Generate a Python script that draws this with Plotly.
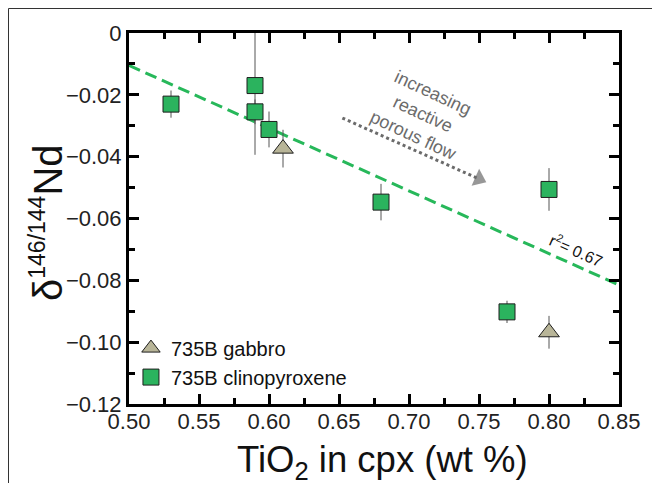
import plotly.graph_objects as go

# ---- data ----
gabbro_x = [0.61, 0.80]
gabbro_y = [-0.0374, -0.0968]
gabbro_err = [0.0061, 0.0053]

cpx_x = [0.53, 0.59, 0.59, 0.60, 0.68, 0.77, 0.80]
cpx_y = [-0.0230, -0.0170, -0.0255, -0.0312, -0.0547, -0.0902, -0.0506]
cpx_err = [0.0044, 0.0224, 0.0040, 0.0058, 0.0059, 0.0036, 0.0069]

fit_x = [0.50, 0.85]
fit_y = [-0.0105, -0.0815]

arrow_x = [0.6524, 0.750]
arrow_y = [-0.0275, -0.0472]

x_tickvals = [0.50, 0.55, 0.60, 0.65, 0.70, 0.75, 0.80, 0.85]
x_ticktext = ["0.50", "0.55", "0.60", "0.65", "0.70", "0.75", "0.80", "0.85"]
y_tickvals = [0, -0.02, -0.04, -0.06, -0.08, -0.10, -0.12]
y_ticktext = ["0", "\u22120.02", "\u22120.04", "\u22120.06", "\u22120.08", "\u22120.10", "\u22120.12"]

FONT = "Liberation Sans, Arial, sans-serif"
GREEN = "#2bb35e"
LINE_GREEN = "#27b85a"
KHAKI = "#b8b598"
GRAY = "#6b6b6b"

W, H = 652, 483
ML, MR, MT, MB = 129, 33, 33, 79
PW, PH = W - ML - MR, H - MT - MB


def px_to_paper_x(px):
    return (px - ML) / PW


def px_to_paper_y(py):
    return (H - MB - py) / PH


fig = go.Figure()

fig.add_trace(go.Scatter(
    x=fit_x, y=fit_y, mode="lines",
    line=dict(color=LINE_GREEN, width=3, dash="12px,6px"),
    showlegend=False, hoverinfo="skip"))

fig.add_trace(go.Scatter(
    x=arrow_x, y=arrow_y, mode="lines+markers",
    line=dict(color=GRAY, width=3, dash="3px,3px"),
    marker=dict(symbol="triangle-up", size=[0, 16], color=GRAY,
                angleref="previous", line=dict(width=0)),
    showlegend=False, hoverinfo="skip"))

fig.add_trace(go.Scatter(
    x=gabbro_x, y=gabbro_y, mode="markers", name="735B gabbro",
    error_y=dict(type="data", array=gabbro_err, color="#555555", thickness=1, width=0),
    marker=dict(symbol="triangle-up", size=18, color=KHAKI,
                line=dict(color="#1e1e1e", width=1))))

fig.add_trace(go.Scatter(
    x=cpx_x, y=cpx_y, mode="markers", name="735B clinopyroxene",
    error_y=dict(type="data", array=cpx_err, color="#555555", thickness=1, width=0),
    marker=dict(symbol="square", size=16, color=GREEN,
                line=dict(color="#1e1e1e", width=1))))

axis_common = dict(
    showline=True, linecolor="black", linewidth=3, mirror="ticks",
    ticks="inside", ticklen=10, tickwidth=3, tickcolor="black",
    showgrid=False, zeroline=False,
    tickfont=dict(family=FONT, size=22, color="#222222"),
)

fig.update_xaxes(
    range=[0.5, 0.85], tickmode="array", tickvals=x_tickvals, ticktext=x_ticktext,
    ticklabelstandoff=-4,
    minor=dict(tick0=0.5, dtick=0.025, ticks="inside", ticklen=6, tickwidth=3, tickcolor="black"),
    **axis_common)
fig.update_yaxes(
    range=[-0.12, 0], tickmode="array", tickvals=y_tickvals, ticktext=y_ticktext,
    minor=dict(tick0=0, dtick=0.01, ticks="inside", ticklen=6, tickwidth=3, tickcolor="black"),
    **axis_common)

annotations = [
    dict(text="\u03b4<sup><span style='font-size:23px'>146/144</span></sup>Nd",
         xref="paper", yref="paper", x=px_to_paper_x(47), y=px_to_paper_y(223), textangle=-90,
         showarrow=False, xanchor="center", yanchor="middle", borderpad=4,
         font=dict(family=FONT, size=40, color="#111111")),
    dict(text="TiO<sub>2</sub> in cpx (wt %)",
         xref="paper", yref="paper", x=px_to_paper_x(382), y=px_to_paper_y(462),
         showarrow=False, xanchor="center", yanchor="middle", borderpad=6,
         font=dict(family=FONT, size=36.5, color="#111111")),
    dict(text="increasing<br>reactive<br>porous flow",
         xref="x", yref="y", x=0.7105, y=-0.0262, textangle=25,
         showarrow=False, xanchor="center", yanchor="middle",
         font=dict(family=FONT, size=18, color=GRAY)),
    dict(text="r<sup>2</sup>= 0.67",
         xref="x", yref="y", x=0.8198, y=-0.0703, textangle=24,
         showarrow=False, xanchor="center", yanchor="middle",
         font=dict(family=FONT, size=16, color="#111111")),
]

# outer frame (top and left lines of the panel)
shapes = [
    dict(type="line", xref="paper", yref="paper",
         x0=px_to_paper_x(8.5), x1=px_to_paper_x(652), y0=px_to_paper_y(8.5), y1=px_to_paper_y(8.5),
         line=dict(color="#333333", width=1)),
    dict(type="line", xref="paper", yref="paper",
         x0=px_to_paper_x(8.5), x1=px_to_paper_x(8.5), y0=px_to_paper_y(8.5), y1=px_to_paper_y(483),
         line=dict(color="#333333", width=1)),
]

fig.update_layout(
    width=W, height=H,
    margin=dict(l=ML, r=MR, t=MT, b=MB),
    paper_bgcolor="white", plot_bgcolor="white",
    font=dict(family=FONT, color="#111111"),
    showlegend=True,
    legend=dict(x=0.004, y=0.02, xanchor="left", yanchor="bottom",
                bgcolor="rgba(0,0,0,0)", font=dict(family=FONT, size=20, color="#111111"),
                tracegroupgap=0, itemwidth=30),
    annotations=annotations,
    shapes=shapes,
)

fig.write_html(
    "out.html",
    config={"displayModeBar": False},
    post_script=(
        "document.body.style.margin='0';"
        "document.body.style.overflow='hidden';"
        "document.documentElement.style.overflow='hidden';"
    ),
)
